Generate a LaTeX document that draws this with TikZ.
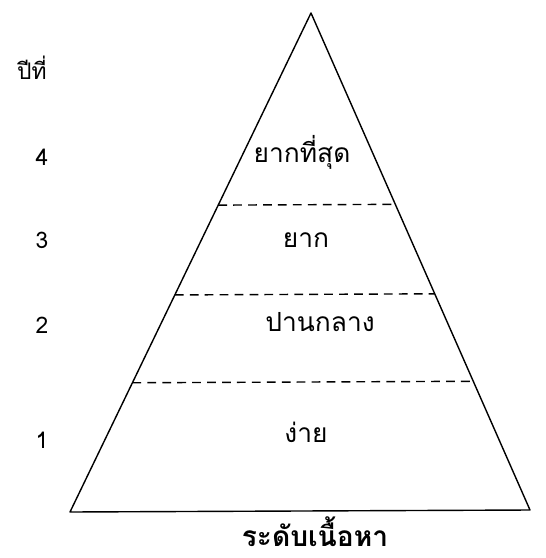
\documentclass[tikz,border=0pt]{standalone}
\usepackage{fontspec}
\newfontfamily\thaifont[Script=Thai]{Loma}
\usetikzlibrary{calc}
\tikzset{
  level/.style={font=\thaifont\fontsize{15}{18}\selectfont},
  year/.style={font=\thaifont\fontsize{13}{15}\selectfont},
  cut/.style={dash pattern=on 5pt off 3.5pt,thick},
}
\begin{document}
\begin{tikzpicture}[x=0.02cm,y=-0.02cm]
\useasboundingbox (0,0) rectangle (546,558);
\coordinate (top) at (311,13);
\coordinate (bl) at (70,512);
\coordinate (br) at (530,510);
\draw[thick,line join=round] (bl) -- (top) -- (br) -- cycle;
\foreach \t/\n in {0.385/a,0.565/b,0.741/c}
  \draw[cut] ($(top)!\t!(bl)$) -- ($(top)!\t!(br)$);
\node[year] (yr) at (32,68) {ปีที่};
\node[year] (y4) at (42,157) {4};
\node[year] (y3) at (42,240) {3};
\node[year] (y2) at (42,325) {2};
\node[year] (y1) at (42,440) {1};
\node[level] (l4) at (302,152) {ยากที่สุด};
\node[level] (l3) at (306,240) {ยาก};
\node[level] (l2) at (320,322) {ปานกลาง};
\node[level] (l1) at (306,432) {ง่าย};
\node[font=\thaifont\bfseries\fontsize{16}{19}\selectfont,anchor=base,inner sep=0pt] (axis) at (315,546) {ระดับเนื้อหา};
\end{tikzpicture}
\end{document}
